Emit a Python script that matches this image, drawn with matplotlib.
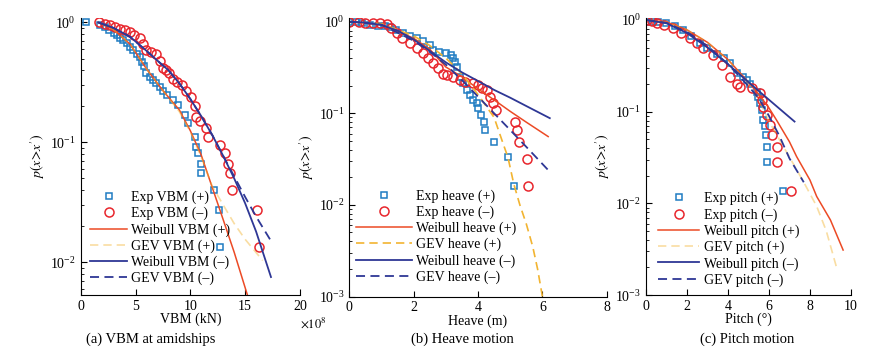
import matplotlib
matplotlib.use("Agg")
import matplotlib.pyplot as plt
from matplotlib.ticker import LogLocator, NullFormatter

plt.rcParams['font.family'] = ['Liberation Serif', 'DejaVu Serif']
plt.rcParams['mathtext.fontset'] = 'stix'
plt.rcParams['axes.unicode_minus'] = True

BLUE_MK = '#1f7cc2'
RED_MK = '#e8262d'
RED_LN = '#ec4a25'
YEL_LN = '#f2b431'
BLUE_LN = '#2e3795'

# ---- (a) VBM at amidships ----
vbm_pos_x = [0.5, 1.8, 2.2, 2.6, 3.0, 3.3, 3.6, 3.9, 4.2, 4.5, 4.8, 5.1, 5.4, 5.6, 5.8, 6.0,
             6.3, 6.6, 6.9, 7.2, 7.5, 7.9, 8.4, 8.9, 9.5, 9.8, 10.4, 10.55, 10.7, 11.0, 11.0,
             12.2, 12.6, 12.7]
vbm_pos_p = [1.0, 0.96, 0.92, 0.87, 0.82, 0.78, 0.74, 0.71, 0.67, 0.63, 0.59, 0.55, 0.52, 0.47,
             0.43, 0.38, 0.35, 0.33, 0.31, 0.29, 0.27, 0.25, 0.226, 0.205, 0.169, 0.144, 0.111,
             0.091, 0.081, 0.0665, 0.055, 0.040, 0.027, 0.0133]
vbm_neg_x = [1.7, 2.2, 2.7, 3.1, 3.6, 4.0, 4.5, 4.9, 5.4, 5.7, 6.0, 6.4, 6.9, 7.2, 7.5, 7.8, 8.1,
             8.4, 8.8, 9.2, 9.6, 10.1, 10.4, 10.55, 10.9, 11.4, 11.6, 12.7, 13.2, 13.4, 13.6,
             13.8, 16.05, 16.3]
vbm_neg_p = [1.0, 0.98, 0.95, 0.92, 0.89, 0.86, 0.83, 0.79, 0.74, 0.66, 0.59, 0.57, 0.55, 0.48,
             0.42, 0.40, 0.38, 0.34, 0.32, 0.30, 0.27, 0.24, 0.20, 0.164, 0.15, 0.131, 0.111,
             0.095, 0.081, 0.066, 0.055, 0.040, 0.027, 0.0133]
vbm_wb_pos_x = [1.6, 3.0, 4.5, 6.0, 7.5, 9.0, 10.0, 11.0, 12.0, 13.0, 14.0, 15.24]
vbm_wb_pos_p = [1.0, 0.87, 0.66, 0.41, 0.27, 0.186, 0.125, 0.078, 0.042, 0.0226, 0.0121, 0.0052]
vbm_gev_pos_x = [1.6, 3.0, 4.5, 6.0, 7.5, 9.0, 10.0, 11.0, 12.0, 13.0, 14.0, 15.0, 16.6]
vbm_gev_pos_p = [1.0, 0.87, 0.66, 0.41, 0.27, 0.18, 0.122, 0.075, 0.043, 0.03, 0.021, 0.0155, 0.0103]
vbm_wb_neg_x = [1.6, 3.0, 4.5, 6.0, 7.0, 8.0, 9.0, 10.0, 11.0, 12.0, 13.0, 14.0, 15.0, 16.0, 17.36]
vbm_wb_neg_p = [1.0, 0.9, 0.76, 0.58, 0.48, 0.40, 0.31, 0.23, 0.165, 0.115, 0.077, 0.05, 0.031,
                0.018, 0.0075]
vbm_gev_neg_x = [1.6, 3.0, 4.5, 6.0, 7.0, 8.0, 9.0, 10.0, 11.0, 12.0, 13.0, 14.0, 15.0, 16.0, 17.5]
vbm_gev_neg_p = [1.0, 0.9, 0.76, 0.58, 0.48, 0.40, 0.31, 0.23, 0.165, 0.115, 0.077, 0.052, 0.035,
                 0.024, 0.0143]

# ---- (b) Heave motion ----
heave_pos_x = [0.0, 0.2, 0.4, 0.64, 0.9, 1.1, 1.26, 1.45, 1.67, 1.9, 2.09, 2.3, 2.5, 2.6, 2.8,
               3.02, 3.15, 3.23, 3.3, 3.34, 3.44, 3.54, 3.65, 3.75, 3.84, 3.96, 4.0, 4.08, 4.18,
               4.22, 4.49, 4.93, 5.11]
heave_pos_p = [1.0, 0.98, 0.96, 0.92, 0.90, 0.89, 0.88, 0.81, 0.75, 0.70, 0.66, 0.61, 0.557, 0.49,
               0.47, 0.45, 0.43, 0.40, 0.36, 0.32, 0.25, 0.213, 0.18, 0.159, 0.14, 0.129, 0.114,
               0.096, 0.081, 0.065, 0.048, 0.033, 0.016]
heave_neg_x = [0.0, 0.3, 0.5, 0.75, 0.95, 1.16, 1.3, 1.47, 1.65, 1.88, 2.1, 2.3, 2.45, 2.61, 2.75,
               2.92, 3.05, 3.23, 3.44, 3.6, 3.85, 4.0, 4.11, 4.27, 4.37, 4.48, 4.55, 5.15, 5.2,
               5.27, 5.51, 5.56]
heave_neg_p = [1.0, 0.98, 0.97, 0.96, 0.96, 0.95, 0.85, 0.75, 0.66, 0.58, 0.51, 0.45, 0.40, 0.35,
               0.31, 0.27, 0.26, 0.25, 0.23, 0.22, 0.213, 0.204, 0.188, 0.18, 0.152, 0.129, 0.109,
               0.081, 0.066, 0.048, 0.032, 0.016]
heave_wb_pos_x = [0.0, 1.0, 2.0, 2.5, 3.0, 3.5, 4.0, 4.5, 5.0, 5.5, 6.18]
heave_wb_pos_p = [1.0, 0.93, 0.66, 0.5, 0.32, 0.25, 0.185, 0.14, 0.105, 0.08, 0.0557]
heave_gev_pos_x = [0.0, 1.0, 2.0, 2.5, 3.0, 3.5, 4.0, 4.5, 4.75, 4.93, 5.11, 5.3, 5.5, 5.7, 5.85, 6.0]
heave_gev_pos_p = [1.0, 0.95, 0.7, 0.55, 0.4, 0.27, 0.16, 0.09, 0.05, 0.033, 0.017, 0.01, 0.0062,
                   0.0035, 0.002, 0.001]
heave_wb_neg_x = [0.0, 0.5, 1.0, 1.5, 2.0, 2.5, 3.0, 3.5, 4.0, 4.5, 5.0, 5.5, 6.23]
heave_wb_neg_p = [1.0, 0.98, 0.92, 0.8, 0.64, 0.48, 0.36, 0.28, 0.225, 0.18, 0.148, 0.12, 0.0885]
heave_gev_neg_x = [0.0, 1.0, 2.0, 2.5, 3.0, 3.65, 4.0, 4.5, 4.89, 5.5, 6.18]
heave_gev_neg_p = [1.0, 0.93, 0.62, 0.47, 0.34, 0.204, 0.152, 0.1, 0.072, 0.043, 0.024]

# ---- (c) Pitch motion ----
pitch_pos_x = [0.03, 0.3, 0.6, 1.0, 1.4, 1.82, 2.2, 2.63, 3.0, 3.45, 3.8, 4.1, 4.42, 4.75, 4.91,
               5.07, 5.4, 5.48, 5.56, 5.64, 5.72, 5.8, 5.85, 5.89, 5.92, 6.7]
pitch_pos_p = [0.96, 0.95, 0.94, 0.92, 0.86, 0.78, 0.67, 0.557, 0.49, 0.43, 0.38, 0.337, 0.262,
               0.24, 0.222, 0.2, 0.165, 0.146, 0.124, 0.105, 0.081, 0.069, 0.056, 0.041, 0.028,
               0.0137]
pitch_neg_x = [0.03, 0.3, 0.52, 0.9, 1.33, 1.7, 2.15, 2.5, 2.8, 3.28, 3.7, 4.1, 4.42, 4.59, 5.15,
               5.56, 5.64, 5.72, 5.89, 6.05, 6.13, 6.37, 6.37, 7.07]
pitch_neg_p = [1.0, 0.97, 0.92, 0.87, 0.81, 0.72, 0.63, 0.56, 0.49, 0.415, 0.32, 0.24, 0.2, 0.187,
               0.18, 0.159, 0.134, 0.113, 0.092, 0.072, 0.056, 0.041, 0.028, 0.0137]
pitch_wb_pos_x = [0.0, 1.0, 2.0, 3.0, 4.0, 5.0, 5.5, 6.0, 6.37, 7.0, 7.35, 8.0, 8.33, 9.0, 9.62]
pitch_wb_pos_p = [1.0, 0.95, 0.78, 0.57, 0.37, 0.21, 0.155, 0.11, 0.081, 0.047, 0.0324, 0.018,
                  0.0119, 0.0066, 0.0031]
pitch_gev_pos_x = [0.0, 1.0, 2.0, 3.0, 4.0, 5.0, 5.5, 6.05, 7.0, 7.7, 8.33, 8.8, 9.3]
pitch_gev_pos_p = [1.0, 0.95, 0.78, 0.57, 0.37, 0.2, 0.135, 0.075, 0.032, 0.017, 0.0093, 0.005, 0.002]
pitch_wb_neg_x = [0.0, 1.0, 2.0, 3.0, 4.0, 5.0, 6.0, 7.25]
pitch_wb_neg_p = [1.0, 0.92, 0.72, 0.5, 0.33, 0.21, 0.135, 0.078]
pitch_gev_neg_x = [0.0, 1.0, 2.0, 3.0, 4.0, 5.0, 5.5, 6.0, 6.5, 7.0, 7.7]
pitch_gev_neg_p = [1.0, 0.93, 0.74, 0.52, 0.33, 0.19, 0.14, 0.09, 0.055, 0.031, 0.017]

fig = plt.figure(figsize=(8.91, 3.53), dpi=100)
ax_a = fig.add_axes([0.0906, 0.164, 0.246, 0.785])
ax_b = fig.add_axes([0.392, 0.160, 0.289, 0.789])
ax_c = fig.add_axes([0.725, 0.164, 0.230, 0.785])


def draw_panel(ax, name, ex_pos, ex_neg, wb_pos, gev_pos, wb_neg, gev_neg, gev_alpha):
    h1, = ax.plot(*ex_pos, ls='none', marker='s', ms=5, mfc='none', mec=BLUE_MK, mew=1.1,
                  label=f'Exp {name} (+)')
    h2, = ax.plot(*ex_neg, ls='none', marker='o', ms=6.5, mfc='none', mec=RED_MK, mew=1.1,
                  label=f'Exp {name} (\u2013)')
    h3, = ax.plot(*wb_pos, color=RED_LN, lw=1.1, label=f'Weibull {name} (+)')
    h4, = ax.plot(*gev_pos, color=YEL_LN, lw=1.2, ls=(0, (5, 3)), alpha=gev_alpha,
                  label=f'GEV {name} (+)')
    h5, = ax.plot(*wb_neg, color=BLUE_LN, lw=1.3, label=f'Weibull {name} (\u2013)')
    h6, = ax.plot(*gev_neg, color=BLUE_LN, lw=1.3, ls=(0, (5, 3)), label=f'GEV {name} (\u2013)')
    ax.set_yscale('log')
    ax.yaxis.set_major_locator(LogLocator(base=10))
    ax.yaxis.set_minor_locator(LogLocator(base=10, subs=range(2, 10)))
    ax.yaxis.set_minor_formatter(NullFormatter())
    for s in ('top', 'right'):
        ax.spines[s].set_visible(False)
    ax.tick_params(which='both', direction='in', labelsize=10)
    ax.tick_params(which='major', length=4)
    ax.tick_params(which='minor', length=2)
    ax.set_ylabel(r'$p(x\!>\!x^{\prime})$', fontsize=10, labelpad=2)
    return [h1, h2, h3, h4, h5, h6]


leg_kw = dict(loc='lower left', frameon=False, fontsize=10, labelspacing=0.2,
              borderpad=0.2, handletextpad=0.3)

hs = draw_panel(ax_a, 'VBM', (vbm_pos_x, vbm_pos_p), (vbm_neg_x, vbm_neg_p),
                (vbm_wb_pos_x, vbm_wb_pos_p), (vbm_gev_pos_x, vbm_gev_pos_p),
                (vbm_wb_neg_x, vbm_wb_neg_p), (vbm_gev_neg_x, vbm_gev_neg_p), 0.45)
ax_a.set_xlim(0, 20)
ax_a.set_ylim(0.0053, 1.09)
ax_a.set_xticks([0, 5, 10, 15, 20])
ax_a.set_xlabel('VBM (kN)', fontsize=10, labelpad=0)
ax_a.text(1.0, -0.075, r'$\times 10^8$', transform=ax_a.transAxes, fontsize=9, va='top', ha='left')
ax_a.legend(handles=hs, bbox_to_anchor=(0.0, 0.0), handlelength=2.6, **leg_kw)

hs = draw_panel(ax_b, 'heave', (heave_pos_x, heave_pos_p), (heave_neg_x, heave_neg_p),
                (heave_wb_pos_x, heave_wb_pos_p), (heave_gev_pos_x, heave_gev_pos_p),
                (heave_wb_neg_x, heave_wb_neg_p), (heave_gev_neg_x, heave_gev_neg_p), 1.0)
ax_b.set_xlim(0, 8)
ax_b.set_ylim(0.001, 1.097)
ax_b.set_xticks([0, 2, 4, 6, 8])
ax_b.set_xlabel('Heave (m)', fontsize=10, labelpad=0)
ax_b.legend(handles=hs, bbox_to_anchor=(-0.01, 0.01), handlelength=4.0, **leg_kw)

hs = draw_panel(ax_c, 'pitch', (pitch_pos_x, pitch_pos_p), (pitch_neg_x, pitch_neg_p),
                (pitch_wb_pos_x, pitch_wb_pos_p), (pitch_gev_pos_x, pitch_gev_pos_p),
                (pitch_wb_neg_x, pitch_wb_neg_p), (pitch_gev_neg_x, pitch_gev_neg_p), 0.45)
ax_c.set_xlim(0, 10)
ax_c.set_ylim(0.001, 1.05)
ax_c.set_xticks([0, 2, 4, 6, 8, 10])
ax_c.set_xlabel('Pitch (\u00b0)', fontsize=10, labelpad=0)
ax_c.legend(handles=hs, bbox_to_anchor=(0.01, -0.005), handlelength=3.0, **leg_kw)

fig.text(0.1695, 0.040, '(a) VBM at amidships', ha='center', va='center', fontsize=10.5)
fig.text(0.519, 0.040, '(b) Heave motion', ha='center', va='center', fontsize=10.5)
fig.text(0.838, 0.040, '(c) Pitch motion', ha='center', va='center', fontsize=10.5)

fig.savefig('out.png', dpi=100)
